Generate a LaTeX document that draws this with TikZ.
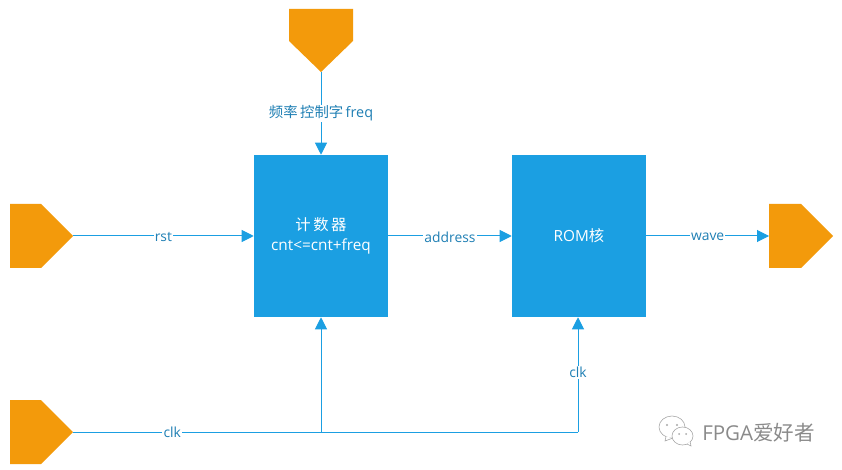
\documentclass[tikz,border=0pt]{standalone}
\usepackage{fontspec}
\setmainfont{Open Sans}
\newfontfamily\cjk{Noto Sans CJK SC}
\usetikzlibrary{arrows.meta}
\definecolor{wire}{HTML}{1B9FE2}
\definecolor{labeltxt}{HTML}{1F7FB4}
\definecolor{port}{HTML}{F39A0B}
\definecolor{wm}{HTML}{8A8A8A}
\definecolor{wmlight}{HTML}{A8A8A8}
\tikzset{
  x=0.75pt,y=-0.75pt,
  block/.style={fill=wire,draw=none,inner sep=0pt,minimum width=100.5pt,minimum height=121.5pt,text=white,align=center,font=\fontsize{11.5}{15}\selectfont},
  portshape/.style={fill=port,draw=none},
  wireline/.style={draw=wire,line width=0.75pt},
  arrowline/.style={wireline,-{Triangle[length=9pt,width=9pt]}},
  lab/.style={fill=white,text=labeltxt,inner sep=0.8pt,font=\fontsize{10.4}{12}\selectfont},
  wmtext/.style={text=wm,inner sep=0pt,font=\fontsize{15.4}{18}\selectfont},
  bubble/.style={draw=wmlight,line width=0.45pt,fill=white}
}
\begin{document}
\begin{tikzpicture}
\useasboundingbox (0,0) rectangle (842,470);
% ports
\fill[portshape] (289,9) -- (353,9) -- (353,41) -- (321,72) -- (289,41) -- cycle;
\fill[portshape] (10,204) -- (41,204) -- (73,236) -- (41,268) -- (10,268) -- cycle;
\fill[portshape] (10,400) -- (41,400) -- (73,432) -- (41,464) -- (10,464) -- cycle;
\fill[portshape] (769,204) -- (801,204) -- (833,236) -- (801,268) -- (769,268) -- cycle;
\coordinate (pfreq) at (321,72);
\coordinate (prst) at (73,236);
\coordinate (pclk) at (73,432);
\coordinate (pwave) at (769,236);
\coordinate (junction) at (321,432);
\coordinate (corner) at (578,432);
% blocks
\node[block] (cnt) at (321,236) {\raisebox{-0.8pt}{\cjk 计\,数\,器}\\\raisebox{-0.8pt}{cnt<=cnt+freq}};
\node[block] (rom) at (579,236) {\raisebox{-0.6pt}{ROM{\cjk 核}}};
% wires
\draw[arrowline] (pfreq) -- node[lab,pos=0.47,yshift=-2pt,font=\fontsize{10.8}{12}\selectfont] (lfreq) {{\cjk 频率\,控制字}\,freq} (cnt.north);
\draw[arrowline] (prst) -- node[lab,pos=0.5,yshift=-0.7pt] (lrst) {rst} (prst -| cnt.west);
\draw[arrowline] (cnt.east) -- node[lab,pos=0.5,yshift=-0.7pt] (laddr) {address} (rom.west);
\draw[arrowline] (rom.east) -- node[lab,pos=0.5,yshift=-0.7pt] (lwave) {wave} (pwave);
\draw[wireline] (pclk) -- node[lab,pos=0.4] (lclka) {clk} (junction);
\draw[wireline] (junction) -- (corner);
\draw[arrowline] (junction) -- (junction |- cnt.south);
\draw[arrowline] (corner) -- node[lab,pos=0.52] (lclkb) {clk} (corner |- rom.south);
% watermark
\draw[bubble] (672,427) ellipse (13 and 11);
\draw[bubble] (666,436.5) -- (665,441) -- (673,438);
\fill[wmlight] (667,425) circle (1.2) (677,425) circle (1.2);
\draw[bubble] (682.5,436) ellipse (10.5 and 9);
\draw[bubble] (687,444) -- (691,446) -- (690,441.5);
\fill[wmlight] (679,434) circle (1) (686,434) circle (1);
\node[wmtext,anchor=west] (wmark) at (702,433) {FPGA{\cjk 爱好者}};
\end{tikzpicture}
\end{document}
